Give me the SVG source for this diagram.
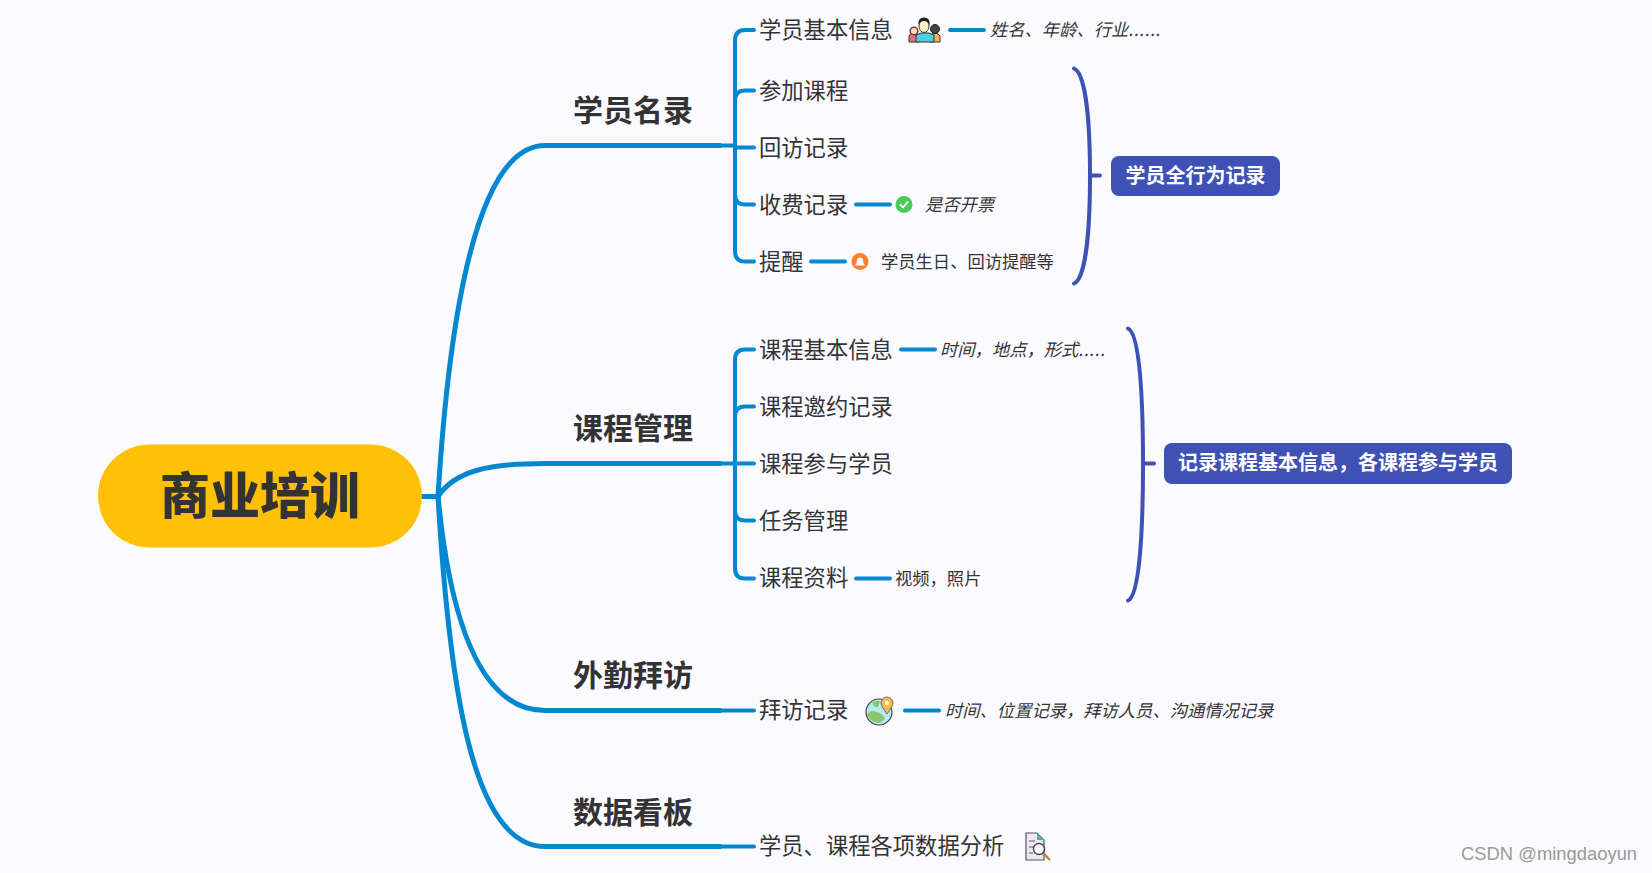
<svg xmlns="http://www.w3.org/2000/svg" width="1652" height="873" viewBox="0 0 1652 873">
<style>
text{font-family:"Noto Sans CJK SC","Noto Sans",sans-serif;fill:#333}
.c{fill:none;stroke:#0288D1;stroke-width:4;stroke-linecap:round}
.t{fill:none;stroke:#0288D1;stroke-width:5;stroke-linecap:round}
.b{fill:none;stroke:#3F51B5;stroke-width:4;stroke-linecap:round}
.h{font-size:30px;font-weight:700}
.n{font-size:22.300px}
.i{font-size:17.300px;font-style:italic}
.p{font-size:17.300px}
.d{letter-spacing:.6px}
.s{fill:#3F51B5}
.st{font-size:20px;font-weight:700;fill:#fff;text-anchor:middle}
.ol{stroke:#333;stroke-width:1}
</style>
<rect width="1652" height="873" fill="#FBFBFF"/>
<g id="connectors" transform="translate(0 .5)">
<path class="t" d="M422 496H438"/>
<path class="t" d="M438 496C450 300 480 145 545 145H720"/>
<path class="t" d="M438 496C455 470 490 463 545 463H720"/>
<path class="t" d="M438 496C450 620 480 710 545 710H720"/>
<path class="t" d="M438 496C450 700 475 846 545 846H720"/>
<path class="c" d="M720 145H735M754 29.500H745Q735 29.500 735 40V251Q735 261 745 261H754M735 100Q735 90 745 90H754M735 147H754M735 194Q735 204 745 204H754"/>
<path class="c" d="M720 463H735M754 349H745Q735 349 735 359V568Q735 578 745 578H754M735 416Q735 406 745 406H754M735 463H754M735 510Q735 520 745 520H754"/>
<path class="c" d="M720 710H754M720 846H754"/>
<path class="c" d="M950 29.500H984M856 204H890M811 261H845M901 349H935M856 578H890M905 710H939"/>
<path class="b" d="M1074 68C1084 72 1090 110 1090 175C1090 240 1084 279 1074 283M1090 175H1100"/>
<path class="b" d="M1128 328C1138 332 1143 380 1143 463C1143 546 1138 596 1128 600M1143 463H1154"/>
</g>
<g id="root"><rect x="98" y="444.500" width="324" height="103" rx="51.500" fill="#FFC107"/><text x="260" y="514" font-size="50" font-weight="900" text-anchor="middle">商业培训</text></g>
<g id="topic-1"><text class="h" x="573" y="121">学员名录</text></g>
<g id="topic-2"><text class="h" x="573" y="439">课程管理</text></g>
<g id="topic-3"><text class="h" x="573" y="686">外勤拜访</text></g>
<g id="topic-4"><text class="h" x="573" y="823">数据看板</text></g>
<g id="n1"><text class="n" x="759" y="37.500">学员基本信息</text>
<path d="M909 42v-6q1-3 5-3t5 3v6z" fill="#E57373" class="ol"/><circle cx="914" cy="31" r="3.800" fill="#FFE0B2" stroke="#7B3B3B" stroke-width="1.500"/>
<path d="M930 42v-6q2-3 5-3t5 3v6z" fill="#FFB74D" class="ol"/><circle cx="935" cy="29" r="4.500" fill="#444" stroke="#222" stroke-width="1"/>
<path d="M916 42V35l5-2h8l5 2v7z" fill="#4DD0E1" class="ol"/><ellipse cx="924" cy="26" rx="5" ry="6.500" fill="#FFF3C4" class="ol"/><path d="M918.500 25q-1-7.500 5.500-7.500q6.500 0 5.500 7.500q-2-4-5.500-4q-3.500 0-5.500 4z" fill="#222"/>
<text class="i" x="990" y="36">姓名、年龄、行业<tspan class="d">......</tspan></text></g>
<g id="n2"><text class="n" x="759" y="98.500">参加课程</text></g>
<g id="n3"><text class="n" x="759" y="155.500">回访记录</text></g>
<g id="n4"><text class="n" x="759" y="212.500">收费记录</text><circle cx="904" cy="204.500" r="8.500" fill="#4CC95B"/><path d="M900 204.500l3 3 5-6" fill="none" stroke="#fff" stroke-width="1.800"/><text class="i" x="925" y="211">是否开票</text></g>
<g id="n5"><text class="n" x="759" y="269.500">提醒</text><circle cx="860" cy="261.500" r="8.500" fill="#FF7F2A"/><path d="M855 265.500q2-2 2-5a3 3 0 0 1 6 0q0 3 2 5z" fill="#fff"/><text class="p" x="881" y="268">学员生日、回访提醒等</text></g>
<g id="n6"><text class="n" x="759" y="357.500">课程基本信息</text><text class="i" x="940" y="356">时间，地点，形式<tspan class="d">.....</tspan></text></g>
<g id="n7"><text class="n" x="759" y="414.500">课程邀约记录</text></g>
<g id="n8"><text class="n" x="759" y="471.500">课程参与学员</text></g>
<g id="n9"><text class="n" x="759" y="528.500">任务管理</text></g>
<g id="n10"><text class="n" x="759" y="586">课程资料</text><text class="p" x="895" y="584.500">视频，照片</text></g>
<g id="n11"><text class="n" x="759" y="718">拜访记录</text>
<circle cx="879" cy="712" r="13" fill="#B2EBF2" stroke="#444" stroke-width="1.200"/><path d="M867 715q4-6 9-3 7 1 9 7-4 4-8 4-7-2-10-8zM872 703q4-3 8-2l-2 6q-4 1-6-4z" fill="#8CC56E"/>
<path d="M887 714q-6-8-6-11a6 6 0 0 1 12 0q0 3-6 11z" fill="#FFB74D" stroke="#555" stroke-width=".8"/><circle cx="887" cy="703" r="2.200" fill="#fff"/>
<text class="i" x="945" y="717">时间、位置记录，拜访人员、沟通情况记录</text></g>
<g id="n12"><text class="n" x="759" y="854">学员、课程各项数据分析</text>
<path d="M1026 833h11l7 7v20h-18z" fill="#EDE7F6" stroke="#555" stroke-width="1.200"/><path d="M1037 833l7 7h-7z" fill="#4DB6AC"/><path d="M1029 841h6M1029 847h5M1029 853h4" stroke="#888" stroke-width="1.500"/>
<path d="M1043 853l7 7" stroke="#B8862D" stroke-width="2.400"/><circle cx="1039" cy="849" r="5.500" fill="#fff" stroke="#444" stroke-width="1.400"/>
</g>
<g id="summary-1"><rect class="s" x="1111" y="156" width="169" height="40" rx="8"/><text class="st" x="1195.500" y="183">学员全行为记录</text></g>
<g id="summary-2"><rect class="s" x="1164" y="443" width="348" height="41" rx="8"/><text class="st" x="1338" y="470">记录课程基本信息，各课程参与学员</text></g>
<text x="1461" y="860" font-size="18.400" style="font-family:'Liberation Sans',sans-serif;fill:#999">CSDN @mingdaoyun</text>
</svg>
